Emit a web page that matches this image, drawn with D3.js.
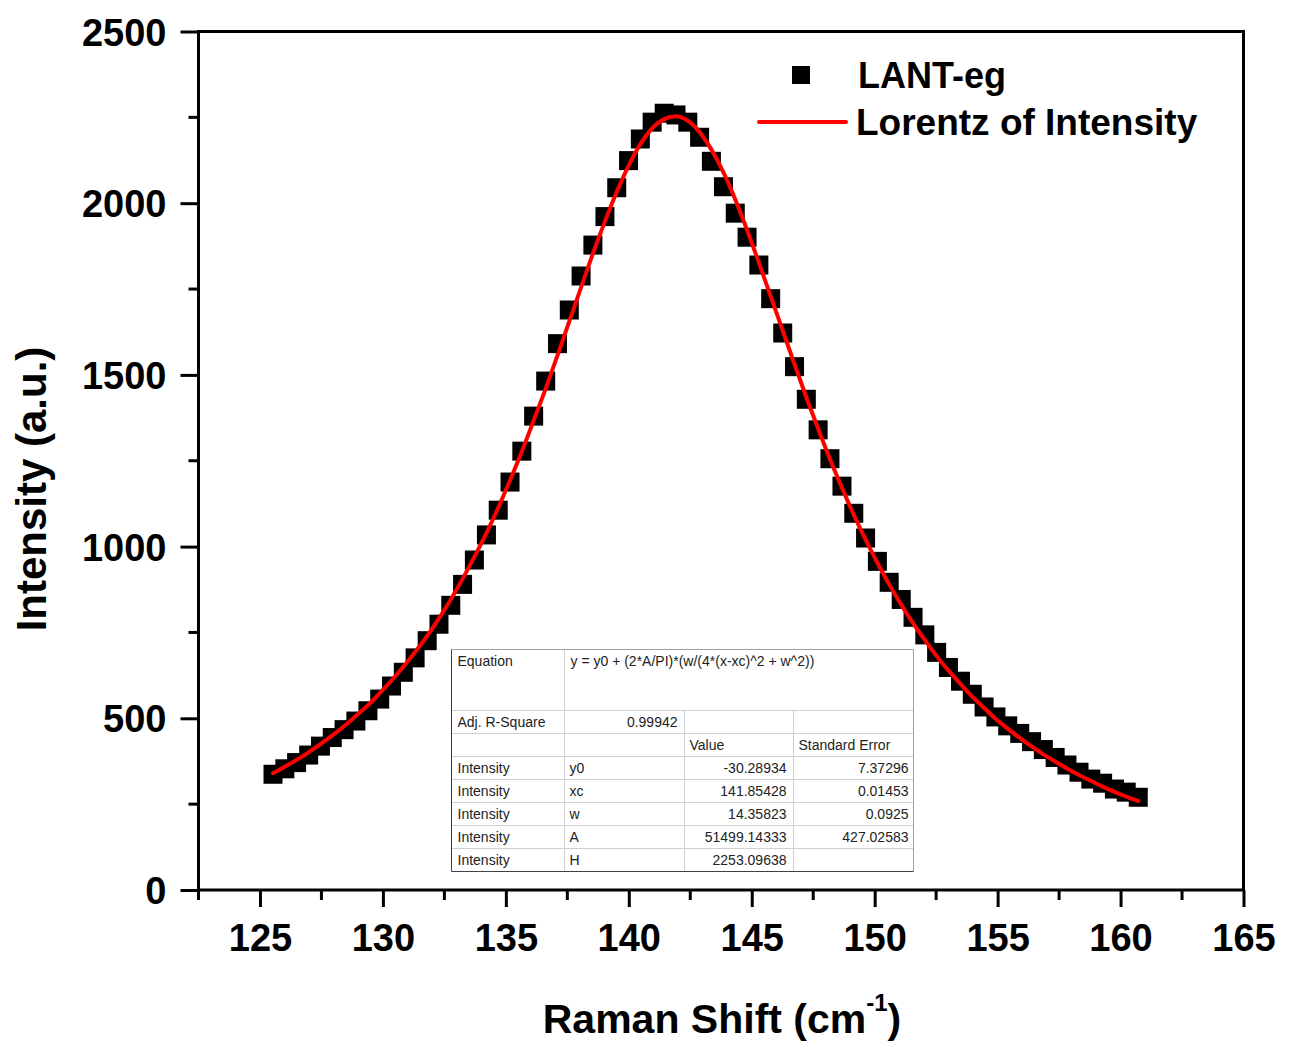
<!DOCTYPE html>
<html>
<head>
<meta charset="utf-8">
<script src="https://cdn.jsdelivr.net/npm/d3@7"></script>
<style>
  body { margin: 0; background: #fff; }
  svg { display: block; }
</style>
</head>
<body>
<svg id="svg" width="1295" height="1046"></svg>
<script>
// measured points (Raman shift, cm-1)
const ramanShift = [125.53, 126.01, 126.49, 126.98, 127.46, 127.94, 128.42, 128.90, 129.39, 129.87,
  130.35, 130.83, 131.31, 131.80, 132.28, 132.76, 133.24, 133.72, 134.21, 134.69,
  135.17, 135.65, 136.13, 136.62, 137.10, 137.58, 138.06, 138.54, 139.03, 139.51,
  139.99, 140.47, 140.95, 141.44, 141.92, 142.40, 142.88, 143.36, 143.85, 144.33,
  144.81, 145.29, 145.77, 146.26, 146.74, 147.22, 147.70, 148.18, 148.67, 149.15,
  149.63, 150.11, 150.59, 151.08, 151.56, 152.04, 152.52, 153.00, 153.49, 153.97,
  154.45, 154.93, 155.41, 155.90, 156.38, 156.86, 157.34, 157.82, 158.31, 158.79,
  159.27, 159.75, 160.23, 160.72];

const intensity = [337, 353, 371, 393, 419, 444, 467, 492, 522, 556,
  594, 634, 676, 726, 774, 829, 890, 961, 1034, 1106,
  1188, 1278, 1380, 1482, 1591, 1689, 1788, 1878, 1961, 2045,
  2124, 2187, 2236, 2262, 2257, 2236, 2192, 2122, 2048, 1971,
  1901, 1820, 1722, 1622, 1524, 1429, 1340, 1256, 1176, 1097,
  1025, 957, 896, 846, 794, 743, 692, 648, 608, 570,
  533, 504, 478, 456, 432, 409, 386, 364, 343, 323,
  311, 294, 285, 270];

// Lorentz fit, read at the same shifts
const fitIntensity = [340, 359, 379, 401, 425, 450, 477, 507, 538, 573,
  610, 650, 693, 740, 791, 846, 906, 970, 1039, 1113,
  1193, 1277, 1367, 1460, 1557, 1656, 1755, 1853, 1947, 2033,
  2109, 2172, 2218, 2245, 2253, 2240, 2207, 2156, 2090, 2011,
  1922, 1827, 1729, 1629, 1531, 1435, 1343, 1255, 1171, 1093,
  1020, 953, 890, 831, 777, 728, 681, 639, 600, 563,
  530, 498, 470, 443, 418, 395, 374, 354, 335, 318,
  301, 286, 272, 259];

const xTicks = [125, 130, 135, 140, 145, 150, 155, 160, 165];
const xMinor = [122.5, 127.5, 132.5, 137.5, 142.5, 147.5, 152.5, 157.5, 162.5];
const yTicks = [0, 500, 1000, 1500, 2000, 2500];
const yMinor = [250, 750, 1250, 1750, 2250];

const equation = "y = y0 + (2*A/PI)*(w/(4*(x-xc)^2 + w^2))";
const adjR2 = "0.99942";
const paramRows = [
  ["Intensity", "y0", "-30.28934", "7.37296"],
  ["Intensity", "xc", "141.85428", "0.01453"],
  ["Intensity", "w", "14.35823", "0.0925"],
  ["Intensity", "A", "51499.14333", "427.02583"],
  ["Intensity", "H", "2253.09638", ""]
];

const font = "'Liberation Sans', Arial, sans-serif";
const svg = d3.select("#svg");

const pLeft = 198.5, pRight = 1243.5, pTop = 31.5, pBottom = 890;

const x = d3.scaleLinear().domain([122.5, 165]).range([pLeft, pRight]);
const y = d3.scaleLinear().domain([0, 2500]).range([pBottom, pTop]);

// x axis ticks
const xAxis = svg.append("g").attr("transform", `translate(0,${pBottom})`);
xAxis.call(d3.axisBottom(x).tickValues(xTicks).tickSize(17).tickFormat(d3.format("d")));
xAxis.select(".domain").remove();
xAxis.selectAll(".tick line").attr("stroke", "#000").attr("stroke-width", 3);
xAxis.selectAll(".tick text")
  .attr("font-family", font).attr("font-weight", "bold").attr("font-size", 38)
  .attr("fill", "#000").attr("dy", null).attr("y", 61);
xAxis.selectAll(".minor").data(xMinor).join("line")
  .attr("class", "minor")
  .attr("x1", d => x(d)).attr("x2", d => x(d))
  .attr("y1", 0).attr("y2", 10)
  .attr("stroke", "#000").attr("stroke-width", 3);

// y axis ticks
const yAxis = svg.append("g").attr("transform", `translate(${pLeft},0)`);
yAxis.call(d3.axisLeft(y).tickValues(yTicks).tickSize(18).tickFormat(d3.format("d")));
yAxis.select(".domain").remove();
yAxis.selectAll(".tick line").attr("stroke", "#000").attr("stroke-width", 3);
yAxis.selectAll(".tick text")
  .attr("font-family", font).attr("font-weight", "bold").attr("font-size", 38)
  .attr("fill", "#000").attr("x", -32).attr("dy", "0.36em");
yAxis.selectAll(".minor").data(yMinor).join("line")
  .attr("class", "minor")
  .attr("y1", d => y(d)).attr("y2", d => y(d))
  .attr("x1", 0).attr("x2", -10)
  .attr("stroke", "#000").attr("stroke-width", 3);

// frame
svg.append("rect")
  .attr("x", pLeft).attr("y", pTop)
  .attr("width", pRight - pLeft).attr("height", pBottom - pTop)
  .attr("fill", "none").attr("stroke", "#000").attr("stroke-width", 3);

// axis titles
const xt = svg.append("text")
  .attr("x", 722).attr("y", 1033)
  .attr("text-anchor", "middle")
  .attr("font-family", font).attr("font-weight", "bold").attr("font-size", 41);
xt.append("tspan").text("Raman Shift (cm");
xt.append("tspan").attr("font-size", 24).attr("dy", -22).text("-1");
xt.append("tspan").attr("dy", 22).text(")");

svg.append("text")
  .attr("transform", "translate(46,489) rotate(-90)")
  .attr("text-anchor", "middle")
  .attr("font-family", font).attr("font-weight", "bold").attr("font-size", 42)
  .text("Intensity (a.u.)");

// data squares
const pts = ramanShift.map((s, i) => ({ s, v: intensity[i] }));
const m = 19;
svg.append("g").selectAll("rect").data(pts).join("rect")
  .attr("x", d => x(d.s) - m / 2)
  .attr("y", d => y(d.v) - m / 2)
  .attr("width", m).attr("height", m)
  .attr("fill", "#000");

// fit line
const fitPts = ramanShift.map((s, i) => ({ s, v: fitIntensity[i] }));
svg.append("path")
  .datum(fitPts)
  .attr("d", d3.line().x(d => x(d.s)).y(d => y(d.v)).curve(d3.curveMonotoneX))
  .attr("fill", "none").attr("stroke", "#ff0000").attr("stroke-width", 4)
  .attr("stroke-linecap", "round");

// legend
svg.append("rect").attr("x", 792).attr("y", 66).attr("width", 18).attr("height", 18).attr("fill", "#000");
svg.append("text").attr("x", 858).attr("y", 88)
  .attr("font-family", font).attr("font-weight", "bold").attr("font-size", 36)
  .text("LANT-eg");
svg.append("line").attr("x1", 759).attr("x2", 846).attr("y1", 122).attr("y2", 122)
  .attr("stroke", "#ff0000").attr("stroke-width", 4).attr("stroke-linecap", "round");
svg.append("text").attr("x", 856).attr("y", 135)
  .attr("font-family", font).attr("font-weight", "bold").attr("font-size", 37)
  .text("Lorentz of Intensity");

// fit table
const tb = svg.append("g");
const tL = 451.5, tR = 913.5, tT = 649.5, rowH = 23, eqH = 61;
const cols = [tL, 564.5, 684.5, 793.5, tR];
const tBot = tT + eqH + rowH * 7;
tb.append("rect").attr("x", tL).attr("y", tT).attr("width", tR - tL).attr("height", tBot - tT)
  .attr("fill", "#fff");
// horizontal grid lines
for (let r = 0; r < 7; r++) {
  const yy = tT + eqH + r * rowH;
  tb.append("line").attr("x1", tL).attr("x2", tR).attr("y1", yy).attr("y2", yy)
    .attr("stroke", "#d0d0d0").attr("stroke-width", 1);
}
// vertical grid lines
tb.append("line").attr("x1", cols[1]).attr("x2", cols[1]).attr("y1", tT).attr("y2", tBot)
  .attr("stroke", "#d0d0d0");
[cols[2], cols[3]].forEach(cx => {
  tb.append("line").attr("x1", cx).attr("x2", cx).attr("y1", tT + eqH).attr("y2", tBot)
    .attr("stroke", "#d0d0d0");
});
// border: light top/right, dark left/bottom
tb.append("line").attr("x1", tL).attr("x2", tR).attr("y1", tT).attr("y2", tT).attr("stroke", "#a0a0a0");
tb.append("line").attr("x1", tR).attr("x2", tR).attr("y1", tT).attr("y2", tBot).attr("stroke", "#a0a0a0");
tb.append("line").attr("x1", tL).attr("x2", tL).attr("y1", tT).attr("y2", tBot).attr("stroke", "#404040");
tb.append("line").attr("x1", tL).attr("x2", tR).attr("y1", tBot).attr("y2", tBot).attr("stroke", "#404040");

function cell(txt, cx, yy, anchor) {
  tb.append("text").attr("x", cx).attr("y", yy)
    .attr("text-anchor", anchor)
    .attr("font-family", font).attr("font-size", 14).attr("fill", "#222")
    .text(txt);
}
cell("Equation", tL + 6, tT + 16, "start");
cell(equation, cols[1] + 6, tT + 16, "start");
let by = tT + eqH + 16;
cell("Adj. R-Square", tL + 6, by, "start");
cell(adjR2, cols[2] - 7, by, "end");
by += rowH;
cell("Value", cols[2] + 5, by, "start");
cell("Standard Error", cols[3] + 5, by, "start");
paramRows.forEach(row => {
  by += rowH;
  cell(row[0], tL + 6, by, "start");
  cell(row[1], cols[1] + 5, by, "start");
  cell(row[2], cols[3] - 7, by, "end");
  cell(row[3], tR - 5, by, "end");
});
</script>
</body>
</html>
